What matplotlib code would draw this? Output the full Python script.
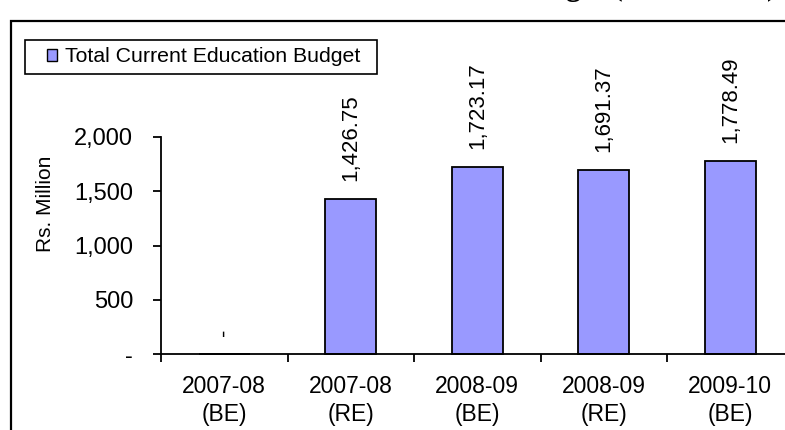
import matplotlib
matplotlib.use("Agg")
import matplotlib.pyplot as plt
from matplotlib.patches import Rectangle

plt.rcParams['font.family'] = ['Liberation Sans', 'DejaVu Sans']

# data
years = ["2007-08\n(BE)", "2007-08\n(RE)", "2008-09\n(BE)", "2008-09\n(RE)", "2009-10\n(BE)"]
budget = [0, 1426.75, 1723.17, 1691.37, 1778.49]
value_labels = ["-", "1,426.75", "1,723.17", "1,691.37", "1,778.49"]
y_ticks = [0, 500, 1000, 1500, 2000]
y_tick_labels = ["-", "500", "1,000", "1,500", "2,000"]

W, H = 785, 430
fig = plt.figure(figsize=(W / 100, H / 100), dpi=100)

# plot area (runs off the right edge like the cropped original)
x0, x1 = 161, 161 + 5 * 126.5
y0, y1 = 354, 137
ax = fig.add_axes([x0 / W, 1 - y0 / H, (x1 - x0) / W, (y0 - y1) / H])

xs = list(range(len(years)))
bars = ax.bar(xs, budget, width=0.4, color="#9999FF", edgecolor="black",
              linewidth=1.3, label="Total Current Education Budget",
              clip_on=False)

for x, v, lab in zip(xs, budget, value_labels):
    ax.annotate(lab, (x, v), xytext=(0, 13), textcoords="offset points",
                rotation=90, ha="center", va="bottom", fontsize=16,
                annotation_clip=False)

ax.set_xlim(-0.5, len(years) - 0.5)
ax.set_ylim(0, 2000)
ax.set_yticks(y_ticks)
ax.set_yticklabels(y_tick_labels)
ax.set_xticks([i - 0.5 for i in range(len(years) + 1)])
ax.set_xticklabels([""] * (len(years) + 1))
ax.set_xticks(xs, minor=True)
ax.set_xticklabels(years, minor=True, linespacing=1.3)
ax.tick_params(axis="x", which="minor", length=0, labelsize=16.5, pad=15)
ax.tick_params(axis="x", which="major", length=6, width=1.3, direction="out")
ax.tick_params(axis="y", length=6, width=1.3, labelsize=17, pad=14)

for s in ["top", "right"]:
    ax.spines[s].set_visible(False)
for s in ["left", "bottom"]:
    ax.spines[s].set_linewidth(1.3)

ax.set_ylabel("Rs. Million", fontsize=15)
ax.yaxis.set_label_coords(-0.168, 0.69)

# legend contents, with the box drawn separately
leg_fs = 15.3
leg = ax.legend(loc="center left", bbox_to_anchor=(47 / W, 1 - 57 / H),
                bbox_transform=fig.transFigure, frameon=False,
                fontsize=leg_fs, handlelength=7.2 / leg_fs,
                handleheight=7.2 / leg_fs, handletextpad=5.5 / leg_fs,
                borderpad=0, borderaxespad=0)
for h in leg.legend_handles:
    h.set_linewidth(1.0)
fig.add_artist(Rectangle((25 / W, 1 - 74 / H), 352 / W, 34 / H,
                         transform=fig.transFigure, fill=False,
                         edgecolor="black", linewidth=1.2))

# outer chart frame, cropped at right and bottom
fig.add_artist(Rectangle((11 / W, -0.1), 1.2, 1.1 - 21 / H,
                         transform=fig.transFigure, fill=False,
                         edgecolor="black", linewidth=1.6))

# title, mostly cut off above the frame
fig.text(777 / W, 1 + 5 / H, "Total Current Education Budget (Rs. Million)",
         ha="right", va="baseline", fontsize=22, fontweight="bold",
         family=["Liberation Serif", "DejaVu Serif"])

fig.savefig("out.png", dpi=100)
